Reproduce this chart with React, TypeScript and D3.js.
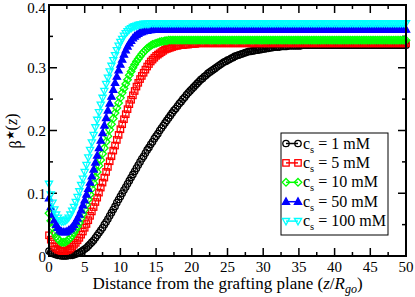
import * as d3 from 'd3';
import React from 'react';

// z grid (z / R_go), step 0.25 from 0 to 50
const zValues = d3.range(0, 50.1, 0.25);

const beta1mM = [
  0.008, 0.006, 0.004, 0.003, 0.002, 0.001, 0.001, 0.000,
  0.000, 0.000, 0.000, 0.001, 0.001, 0.001, 0.002, 0.003,
  0.004, 0.005, 0.007, 0.009, 0.011, 0.013, 0.016, 0.019,
  0.022, 0.025, 0.029, 0.033, 0.037, 0.041, 0.045, 0.050,
  0.054, 0.059, 0.064, 0.069, 0.074, 0.079, 0.085, 0.090,
  0.095, 0.100, 0.105, 0.110, 0.115, 0.120, 0.125, 0.130,
  0.135, 0.140, 0.145, 0.150, 0.155, 0.159, 0.164, 0.169,
  0.173, 0.178, 0.182, 0.187, 0.191, 0.195, 0.200, 0.204,
  0.208, 0.212, 0.216, 0.220, 0.224, 0.228, 0.232, 0.235,
  0.239, 0.243, 0.246, 0.250, 0.253, 0.257, 0.260, 0.263,
  0.266, 0.269, 0.272, 0.275, 0.278, 0.281, 0.283, 0.286,
  0.288, 0.291, 0.293, 0.295, 0.297, 0.299, 0.301, 0.303,
  0.305, 0.307, 0.309, 0.310, 0.312, 0.313, 0.315, 0.316,
  0.318, 0.319, 0.320, 0.321, 0.322, 0.323, 0.324, 0.325,
  0.326, 0.326, 0.327, 0.327, 0.328, 0.328, 0.329, 0.329,
  0.330, 0.330, 0.331, 0.331, 0.332, 0.332, 0.333, 0.333,
  0.333, 0.333, 0.334, 0.334, 0.334, 0.334, 0.335, 0.335,
  0.335, 0.335, 0.335, 0.335, 0.335, 0.335, 0.336, 0.336,
  0.336, 0.336, 0.336, 0.336, 0.336, 0.336, 0.336, 0.336,
  0.336, 0.336, 0.336, 0.336, 0.336, 0.336, 0.336, 0.336,
  0.336, 0.336, 0.336, 0.336, 0.336, 0.336, 0.336, 0.336,
  0.336, 0.336, 0.336, 0.336, 0.336, 0.336, 0.336, 0.336,
  0.336, 0.336, 0.336, 0.336, 0.336, 0.336, 0.336, 0.336,
  0.336, 0.336, 0.336, 0.336, 0.336, 0.336, 0.336, 0.336,
  0.336, 0.336, 0.336, 0.336, 0.336, 0.336, 0.336, 0.336,
  0.336,
];

const beta5mM = [
  0.033, 0.026, 0.020, 0.015, 0.012, 0.010, 0.009, 0.008,
  0.008, 0.008, 0.009, 0.010, 0.012, 0.015, 0.018, 0.021,
  0.025, 0.029, 0.034, 0.039, 0.045, 0.051, 0.057, 0.064,
  0.071, 0.078, 0.086, 0.093, 0.101, 0.109, 0.117, 0.125,
  0.134, 0.142, 0.151, 0.159, 0.168, 0.176, 0.185, 0.193,
  0.202, 0.210, 0.218, 0.226, 0.234, 0.242, 0.249, 0.256,
  0.263, 0.270, 0.276, 0.282, 0.287, 0.292, 0.297, 0.302,
  0.306, 0.310, 0.313, 0.316, 0.319, 0.321, 0.323, 0.325,
  0.327, 0.329, 0.330, 0.331, 0.332, 0.333, 0.334, 0.335,
  0.335, 0.336, 0.336, 0.336, 0.337, 0.337, 0.337, 0.338,
  0.338, 0.338, 0.338, 0.339, 0.339, 0.339, 0.339, 0.339,
  0.339, 0.339, 0.339, 0.339, 0.339, 0.339, 0.339, 0.339,
  0.339, 0.339, 0.339, 0.339, 0.339, 0.339, 0.339, 0.339,
  0.339, 0.339, 0.339, 0.339, 0.339, 0.339, 0.339, 0.339,
  0.339, 0.339, 0.339, 0.339, 0.339, 0.339, 0.339, 0.339,
  0.339, 0.339, 0.339, 0.339, 0.339, 0.339, 0.339, 0.339,
  0.339, 0.339, 0.339, 0.339, 0.339, 0.339, 0.339, 0.339,
  0.339, 0.339, 0.339, 0.339, 0.339, 0.339, 0.339, 0.339,
  0.339, 0.339, 0.339, 0.339, 0.339, 0.339, 0.339, 0.339,
  0.339, 0.339, 0.339, 0.339, 0.339, 0.339, 0.339, 0.339,
  0.339, 0.339, 0.339, 0.339, 0.339, 0.339, 0.339, 0.339,
  0.339, 0.339, 0.339, 0.339, 0.339, 0.339, 0.339, 0.339,
  0.339, 0.339, 0.339, 0.339, 0.339, 0.339, 0.339, 0.339,
  0.339, 0.339, 0.339, 0.339, 0.339, 0.339, 0.339, 0.339,
  0.339, 0.339, 0.339, 0.339, 0.339, 0.339, 0.339, 0.339,
  0.339,
];

const beta10mM = [
  0.068, 0.056, 0.045, 0.037, 0.031, 0.027, 0.024, 0.022,
  0.022, 0.022, 0.024, 0.026, 0.029, 0.033, 0.037, 0.042,
  0.047, 0.053, 0.060, 0.067, 0.074, 0.082, 0.090, 0.098,
  0.107, 0.116, 0.125, 0.134, 0.144, 0.153, 0.163, 0.172,
  0.182, 0.191, 0.201, 0.210, 0.219, 0.228, 0.236, 0.244,
  0.252, 0.260, 0.267, 0.274, 0.281, 0.288, 0.294, 0.300,
  0.305, 0.310, 0.314, 0.318, 0.322, 0.325, 0.328, 0.331,
  0.333, 0.335, 0.337, 0.338, 0.339, 0.340, 0.341, 0.342,
  0.342, 0.343, 0.343, 0.344, 0.344, 0.344, 0.344, 0.344,
  0.344, 0.344, 0.344, 0.344, 0.344, 0.344, 0.344, 0.344,
  0.344, 0.344, 0.344, 0.344, 0.344, 0.344, 0.344, 0.344,
  0.344, 0.344, 0.344, 0.344, 0.344, 0.344, 0.344, 0.344,
  0.344, 0.344, 0.344, 0.344, 0.344, 0.344, 0.344, 0.344,
  0.344, 0.344, 0.344, 0.344, 0.344, 0.344, 0.344, 0.344,
  0.344, 0.344, 0.344, 0.344, 0.344, 0.344, 0.344, 0.344,
  0.344, 0.344, 0.344, 0.344, 0.344, 0.344, 0.344, 0.344,
  0.344, 0.344, 0.344, 0.344, 0.344, 0.344, 0.344, 0.344,
  0.344, 0.344, 0.344, 0.344, 0.344, 0.344, 0.344, 0.344,
  0.344, 0.344, 0.344, 0.344, 0.344, 0.344, 0.344, 0.344,
  0.344, 0.344, 0.344, 0.344, 0.344, 0.344, 0.344, 0.344,
  0.344, 0.344, 0.344, 0.344, 0.344, 0.344, 0.344, 0.344,
  0.344, 0.344, 0.344, 0.344, 0.344, 0.344, 0.344, 0.344,
  0.344, 0.344, 0.344, 0.344, 0.344, 0.344, 0.344, 0.344,
  0.344, 0.344, 0.344, 0.344, 0.344, 0.344, 0.344, 0.344,
  0.344, 0.344, 0.344, 0.344, 0.344, 0.344, 0.344, 0.344,
  0.344,
];

const beta50mM = [
  0.092, 0.078, 0.066, 0.057, 0.050, 0.045, 0.041, 0.039,
  0.038, 0.038, 0.039, 0.041, 0.043, 0.046, 0.050, 0.055,
  0.060, 0.066, 0.073, 0.081, 0.089, 0.098, 0.107, 0.117,
  0.127, 0.138, 0.149, 0.160, 0.172, 0.184, 0.196, 0.208,
  0.220, 0.232, 0.243, 0.254, 0.265, 0.276, 0.286, 0.296,
  0.305, 0.313, 0.321, 0.328, 0.334, 0.339, 0.343, 0.347,
  0.350, 0.352, 0.354, 0.356, 0.357, 0.358, 0.359, 0.359,
  0.360, 0.360, 0.361, 0.361, 0.361, 0.361, 0.361, 0.361,
  0.361, 0.361, 0.361, 0.361, 0.361, 0.361, 0.361, 0.361,
  0.361, 0.361, 0.361, 0.361, 0.361, 0.361, 0.361, 0.361,
  0.361, 0.361, 0.361, 0.361, 0.361, 0.361, 0.361, 0.361,
  0.361, 0.361, 0.361, 0.361, 0.361, 0.361, 0.361, 0.361,
  0.361, 0.361, 0.361, 0.361, 0.361, 0.361, 0.361, 0.361,
  0.361, 0.361, 0.361, 0.361, 0.361, 0.361, 0.361, 0.361,
  0.361, 0.361, 0.361, 0.361, 0.361, 0.361, 0.361, 0.361,
  0.361, 0.361, 0.361, 0.361, 0.361, 0.361, 0.361, 0.361,
  0.361, 0.361, 0.361, 0.361, 0.361, 0.361, 0.361, 0.361,
  0.361, 0.361, 0.361, 0.361, 0.361, 0.361, 0.361, 0.361,
  0.361, 0.361, 0.361, 0.361, 0.361, 0.361, 0.361, 0.361,
  0.361, 0.361, 0.361, 0.361, 0.361, 0.361, 0.361, 0.361,
  0.361, 0.361, 0.361, 0.361, 0.361, 0.361, 0.361, 0.361,
  0.361, 0.361, 0.361, 0.361, 0.361, 0.361, 0.361, 0.361,
  0.361, 0.361, 0.361, 0.361, 0.361, 0.361, 0.361, 0.361,
  0.361, 0.361, 0.361, 0.361, 0.361, 0.361, 0.361, 0.361,
  0.361, 0.361, 0.361, 0.361, 0.361, 0.361, 0.361, 0.361,
  0.361,
];

const beta100mM = [
  0.115, 0.098, 0.085, 0.074, 0.066, 0.061, 0.057, 0.055,
  0.055, 0.056, 0.058, 0.061, 0.066, 0.072, 0.078, 0.086,
  0.094, 0.103, 0.113, 0.123, 0.134, 0.145, 0.157, 0.169,
  0.181, 0.193, 0.205, 0.217, 0.229, 0.241, 0.252, 0.263,
  0.274, 0.284, 0.294, 0.303, 0.312, 0.320, 0.328, 0.335,
  0.341, 0.346, 0.351, 0.355, 0.358, 0.361, 0.363, 0.365,
  0.366, 0.367, 0.368, 0.369, 0.369, 0.370, 0.370, 0.370,
  0.370, 0.371, 0.371, 0.371, 0.371, 0.371, 0.371, 0.371,
  0.371, 0.371, 0.371, 0.371, 0.371, 0.371, 0.371, 0.371,
  0.371, 0.371, 0.371, 0.371, 0.371, 0.371, 0.371, 0.371,
  0.371, 0.371, 0.371, 0.371, 0.371, 0.371, 0.371, 0.371,
  0.371, 0.371, 0.371, 0.371, 0.371, 0.371, 0.371, 0.371,
  0.371, 0.371, 0.371, 0.371, 0.371, 0.371, 0.371, 0.371,
  0.371, 0.371, 0.371, 0.371, 0.371, 0.371, 0.371, 0.371,
  0.371, 0.371, 0.371, 0.371, 0.371, 0.371, 0.371, 0.371,
  0.371, 0.371, 0.371, 0.371, 0.371, 0.371, 0.371, 0.371,
  0.371, 0.371, 0.371, 0.371, 0.371, 0.371, 0.371, 0.371,
  0.371, 0.371, 0.371, 0.371, 0.371, 0.371, 0.371, 0.371,
  0.371, 0.371, 0.371, 0.371, 0.371, 0.371, 0.371, 0.371,
  0.371, 0.371, 0.371, 0.371, 0.371, 0.371, 0.371, 0.371,
  0.371, 0.371, 0.371, 0.371, 0.371, 0.371, 0.371, 0.371,
  0.371, 0.371, 0.371, 0.371, 0.371, 0.371, 0.371, 0.371,
  0.371, 0.371, 0.371, 0.371, 0.371, 0.371, 0.371, 0.371,
  0.371, 0.371, 0.371, 0.371, 0.371, 0.371, 0.371, 0.371,
  0.371, 0.371, 0.371, 0.371, 0.371, 0.371, 0.371, 0.371,
  0.371,
];

const seriesLabels = ['1 mM', '5 mM', '10 mM', '50 mM', '100 mM'];
const seriesValues = [beta1mM, beta5mM, beta10mM, beta50mM, beta100mM];
const seriesColors = ['#000000', '#ff0000', '#00ff00', '#0000ff', '#00ffff'];
const seriesShapes = ['circle', 'square', 'diamond', 'triangleUp', 'triangleDown'];

const W = 415, H = 297;
const left = 49, right = 406, top = 5, bottom = 256;
const font = '"Liberation Serif", "Times New Roman", serif';

function Marker({ shape, x, y, color }) {
  const s = 3.2;
  const common = { fill: shape === 'triangleUp' ? color : 'none', stroke: color, strokeWidth: 1.3 };
  if (shape === 'circle') return <circle cx={x} cy={y} r={s} {...common} />;
  if (shape === 'square') return <rect x={x - s} y={y - s} width={2 * s} height={2 * s} {...common} />;
  let d = '';
  if (shape === 'diamond') d = `M${x},${y - 3.8}L${x + 3.8},${y}L${x},${y + 3.8}L${x - 3.8},${y}Z`;
  if (shape === 'triangleUp') d = `M${x},${y - 3.8}L${x + 3.6},${y + 2.6}L${x - 3.6},${y + 2.6}Z`;
  if (shape === 'triangleDown') d = `M${x},${y + 3.8}L${x + 3.6},${y - 2.6}L${x - 3.6},${y - 2.6}Z`;
  return <path d={d} {...common} />;
}

export default function App() {
  const x = d3.scaleLinear().domain([0, 50]).range([left, right]);
  const y = d3.scaleLinear().domain([0, 0.4]).range([bottom, top]);
  const line = d3.line<number>().x((_, i) => x(zValues[i])).y(v => y(v));

  const xMajor = d3.range(0, 50.1, 5);
  const xMinor = d3.range(2.5, 50, 5);
  const yMajor = y.ticks(4);
  const yMinor = d3.range(0.05, 0.4, 0.1);
  const maj = 8, min = 4;

  const legendX = 281, legendY = 133, legendW = 107, legendH = 102;
  const rowY = (i: number) => 143.5 + i * 19.4;

  return (
    <svg width={W} height={H} style={{ position: 'absolute', left: 0, top: 0 }} fontFamily={font}>
      <rect width={W} height={H} fill="#fff" />
      {/* ticks */}
      <g stroke="#000" strokeWidth={1.5}>
        {xMajor.map(t => (
          <g key={'xm' + t}>
            <line x1={x(t)} x2={x(t)} y1={bottom} y2={bottom - maj} />
            <line x1={x(t)} x2={x(t)} y1={top} y2={top + maj} />
          </g>
        ))}
        {xMinor.map(t => (
          <g key={'xn' + t}>
            <line x1={x(t)} x2={x(t)} y1={bottom} y2={bottom - min} />
            <line x1={x(t)} x2={x(t)} y1={top} y2={top + min} />
          </g>
        ))}
        {yMajor.map(t => (
          <g key={'ym' + t}>
            <line x1={left} x2={left + maj} y1={y(t)} y2={y(t)} />
            <line x1={right} x2={right - maj} y1={y(t)} y2={y(t)} />
          </g>
        ))}
        {yMinor.map(t => (
          <g key={'yn' + t}>
            <line x1={left} x2={left + min} y1={y(t)} y2={y(t)} />
            <line x1={right} x2={right - min} y1={y(t)} y2={y(t)} />
          </g>
        ))}
      </g>
      {/* series */}
      {seriesValues.map((vals, si) => (
        <g key={seriesLabels[si]}>
          <path d={line(vals) || ''} fill="none" stroke={seriesColors[si]} strokeWidth={1} />
          {vals.map((v, i) => (
            <Marker key={i} shape={seriesShapes[si]} x={x(zValues[i])} y={y(v)} color={seriesColors[si]} />
          ))}
        </g>
      ))}
      {/* frame */}
      <rect x={left} y={top} width={right - left} height={bottom - top} fill="none" stroke="#000" strokeWidth={2} />
      {/* tick labels */}
      <g fontSize={15} fill="#000">
        {xMajor.map(t => (
          <text key={'xl' + t} x={x(t)} y={272} textAnchor="middle">{t}</text>
        ))}
        {yMajor.map(t => (
          <text key={'yl' + t} x={46} y={Math.max(y(t), 7)} dy="0.38em" textAnchor="end">{t === 0 ? '0' : d3.format('.1f')(t)}</text>
        ))}
      </g>
      {/* axis titles */}
      <text x={(left + right) / 2} y={289} textAnchor="middle" fontSize={17}>
        Distance from the grafting plane (<tspan fontStyle="italic">z</tspan>/<tspan fontStyle="italic">R</tspan>
        <tspan fontStyle="italic" fontSize={12} dy={4}>go</tspan><tspan dy={-4}>)</tspan>
      </text>
      <text transform={`translate(21, 131) rotate(-90)`} textAnchor="middle" fontSize={16}>
        β<tspan fontSize={11} dy={-7}>★</tspan><tspan dy={3}>(</tspan><tspan fontStyle="italic">z</tspan>)
      </text>
      {/* legend */}
      <rect x={legendX} y={legendY} width={legendW} height={legendH} fill="#fff" stroke="#000" strokeWidth={1} />
      {seriesLabels.map((lab, i) => (
        <g key={'lg' + lab}>
          <line x1={286} x2={298} y1={rowY(i)} y2={rowY(i)} stroke={seriesColors[i]} strokeWidth={1.5} />
          <Marker shape={seriesShapes[i]} x={286} y={rowY(i)} color={seriesColors[i]} />
          <Marker shape={seriesShapes[i]} x={298} y={rowY(i)} color={seriesColors[i]} />
          <text x={303} y={rowY(i) + 5} fontSize={16}>
            c<tspan fontSize={10.5} dy={4}>s</tspan><tspan dy={-4}> = {lab}</tspan>
          </text>
        </g>
      ))}
    </svg>
  );
}
